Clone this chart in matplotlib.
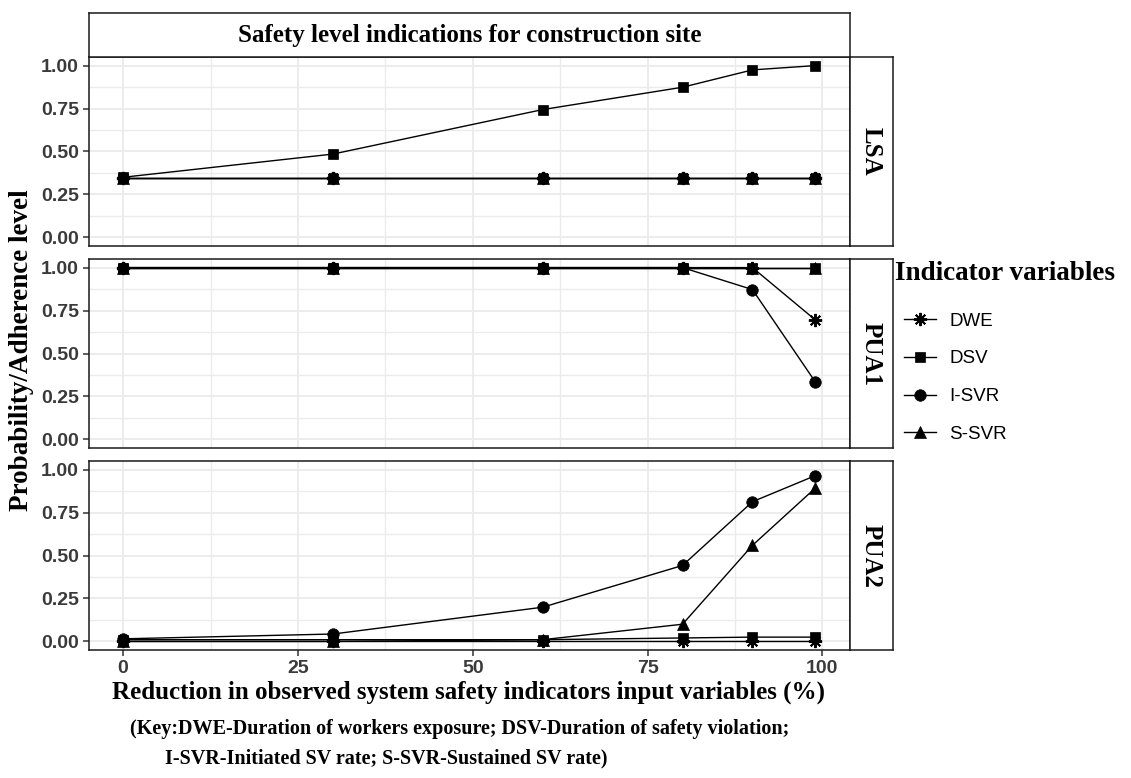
import matplotlib
matplotlib.use("Agg")
import matplotlib.pyplot as plt
from matplotlib.lines import Line2D
from matplotlib.ticker import MultipleLocator

# ---------------- data ----------------
x_reduction = [0, 30, 60, 80, 90, 99]
facet_names = ["LSA", "PUA1", "PUA2"]
series_names = ["DWE", "DSV", "I-SVR", "S-SVR"]

lsa_dwe = [0.345, 0.345, 0.345, 0.345, 0.345, 0.345]
lsa_dsv = [0.35, 0.485, 0.744, 0.874, 0.975, 1.00]
lsa_isvr = [0.345, 0.345, 0.345, 0.345, 0.345, 0.345]
lsa_ssvr = [0.345, 0.345, 0.345, 0.345, 0.345, 0.345]

pua1_dwe = [1.00, 1.00, 1.00, 1.00, 1.00, 0.695]
pua1_dsv = [1.00, 1.00, 1.00, 1.00, 1.00, 1.00]
pua1_isvr = [1.00, 1.00, 1.00, 1.00, 0.872, 0.334]
pua1_ssvr = [1.00, 1.00, 1.00, 1.00, 1.00, 1.00]

pua2_dwe = [0.0, 0.0, 0.0, 0.0, 0.0, 0.0]
pua2_dsv = [0.01, 0.01, 0.01, 0.02, 0.025, 0.025]
pua2_isvr = [0.015, 0.043, 0.199, 0.442, 0.813, 0.965]
pua2_ssvr = [0.0, 0.0, 0.01, 0.10, 0.559, 0.893]

x_ticks = [0, 25, 50, 75, 100]
y_ticks = [0.00, 0.25, 0.50, 0.75, 1.00]
y_tick_labels = ["0.00", "0.25", "0.50", "0.75", "1.00"]

title_text = "Safety level indications for construction site"
y_label = "Probability/Adherence level"
x_label = "Reduction in observed system safety indicators input variables (%)"
key_line1 = "(Key:DWE-Duration of workers exposure; DSV-Duration of safety violation;"
key_line2 = "I-SVR-Initiated SV rate; S-SVR-Sustained SV rate)"
legend_title = "Indicator variables"

facet_data = {
    "LSA": [lsa_dwe, lsa_dsv, lsa_isvr, lsa_ssvr],
    "PUA1": [pua1_dwe, pua1_dsv, pua1_isvr, pua1_ssvr],
    "PUA2": [pua2_dwe, pua2_dsv, pua2_isvr, pua2_ssvr],
}

# ---------------- styles ----------------
SERIF = "Liberation Serif"
SANS = "Liberation Sans"
marker_styles = {
    "DWE": dict(marker=(8, 2, 0), markersize=9.5, markeredgewidth=1.4),
    "DSV": dict(marker="s", markersize=7.8, markeredgewidth=0.5),
    "I-SVR": dict(marker="o", markersize=8.3, markeredgewidth=0.5),
    "S-SVR": dict(marker="^", markersize=8.5, markeredgewidth=0.5),
}
GRID = "#EBEBEB"
TICKCOL = "#333333"
TICKLAB = "#3a3a3a"

W, H = 1131, 778
fig = plt.figure(figsize=(W / 100, H / 100), dpi=100)
fig.patch.set_facecolor("white")


def px_axes(x0, y0, x1, y1):
    return fig.add_axes([x0 / W, 1 - y1 / H, (x1 - x0) / W, (y1 - y0) / H])


def box(ax):
    ax.set_xticks([])
    ax.set_yticks([])
    for sp in ax.spines.values():
        sp.set_color("#1a1a1a")
        sp.set_linewidth(1.1)


panel_left, panel_right = 88.5, 850
panel_tops = [57, 259, 461]
panel_h = 189
strip_right = 893

for i, name in enumerate(facet_names):
    top = panel_tops[i]
    ax = px_axes(panel_left, top, panel_right, top + panel_h)
    ax.set_xlim(-4.95, 103.95)
    ax.set_ylim(-0.05, 1.05)
    ax.xaxis.set_major_locator(MultipleLocator(25))
    ax.xaxis.set_minor_locator(MultipleLocator(12.5))
    ax.yaxis.set_major_locator(MultipleLocator(0.25))
    ax.yaxis.set_minor_locator(MultipleLocator(0.125))
    ax.grid(True, which="major", color=GRID, linewidth=1.3, zorder=0)
    ax.grid(True, which="minor", color=GRID, linewidth=1.0, zorder=0)
    ax.set_axisbelow(True)
    ax.tick_params(which="minor", length=0)
    ax.tick_params(which="major", length=4, width=1.1, color=TICKCOL, pad=3)
    ax.set_yticks(y_ticks)
    ax.set_yticklabels(y_tick_labels, fontfamily=SANS, fontweight="bold",
                       fontsize=14, color=TICKLAB)
    ax.set_xticks(x_ticks)
    if i < 2:
        ax.tick_params(axis="x", length=0, labelbottom=False)
    else:
        ax.set_xticklabels([str(t) for t in x_ticks], fontfamily=SANS,
                           fontweight="bold", fontsize=14, color=TICKLAB)
    for sp in ax.spines.values():
        sp.set_color("#1a1a1a")
        sp.set_linewidth(1.1)
    for s_name, yvals in zip(series_names, facet_data[name]):
        ax.plot(x_reduction, yvals, color="black", linewidth=1.0,
                markerfacecolor="black", markeredgecolor="black",
                zorder=3, **marker_styles[s_name])

    # right strip
    sax = px_axes(panel_right, top, strip_right, top + panel_h)
    box(sax)
    sax.text(0.5, 0.5, name, rotation=-90, ha="center", va="center",
             fontfamily=SERIF, fontweight="bold", fontsize=18,
             transform=sax.transAxes)

# top strip
tax = px_axes(panel_left, 13, panel_right, 57)
box(tax)
tax.text(0.5, 0.48, title_text, ha="center", va="center", fontfamily=SERIF,
         fontweight="bold", fontsize=18, transform=tax.transAxes)

# axis labels
fig.text(22 / W, 1 - 350 / H, y_label, rotation=90, ha="center", va="center",
         fontfamily=SERIF, fontweight="bold", fontsize=19.5)
fig.text(469 / W, 1 - 692 / H, x_label, ha="center", va="center",
         fontfamily=SERIF, fontweight="bold", fontsize=18)
fig.text(130 / W, 1 - 729 / H, key_line1, ha="left", va="center",
         fontfamily=SERIF, fontweight="bold", fontsize=14.5)
fig.text(165 / W, 1 - 758 / H, key_line2, ha="left", va="center",
         fontfamily=SERIF, fontweight="bold", fontsize=14.5)

# legend
fig.text(895 / W, 1 - 273 / H, legend_title, ha="left", va="center",
         fontfamily=SERIF, fontweight="bold", fontsize=19.5)
handles = []
for s_name in series_names:
    handles.append(Line2D([0], [0], color="black", linewidth=1.0,
                          markerfacecolor="black", markeredgecolor="black",
                          **marker_styles[s_name]))
leg = fig.legend(handles, series_names, loc="upper left",
                 bbox_to_anchor=(896 / W, 1 - 305 / H), frameon=False,
                 prop={"family": SANS, "size": 13.5}, labelspacing=1.1,
                 handlelength=1.75, handletextpad=0.7, borderaxespad=0,
                 borderpad=0.4)

fig.savefig("out.png", dpi=100, facecolor="white")
